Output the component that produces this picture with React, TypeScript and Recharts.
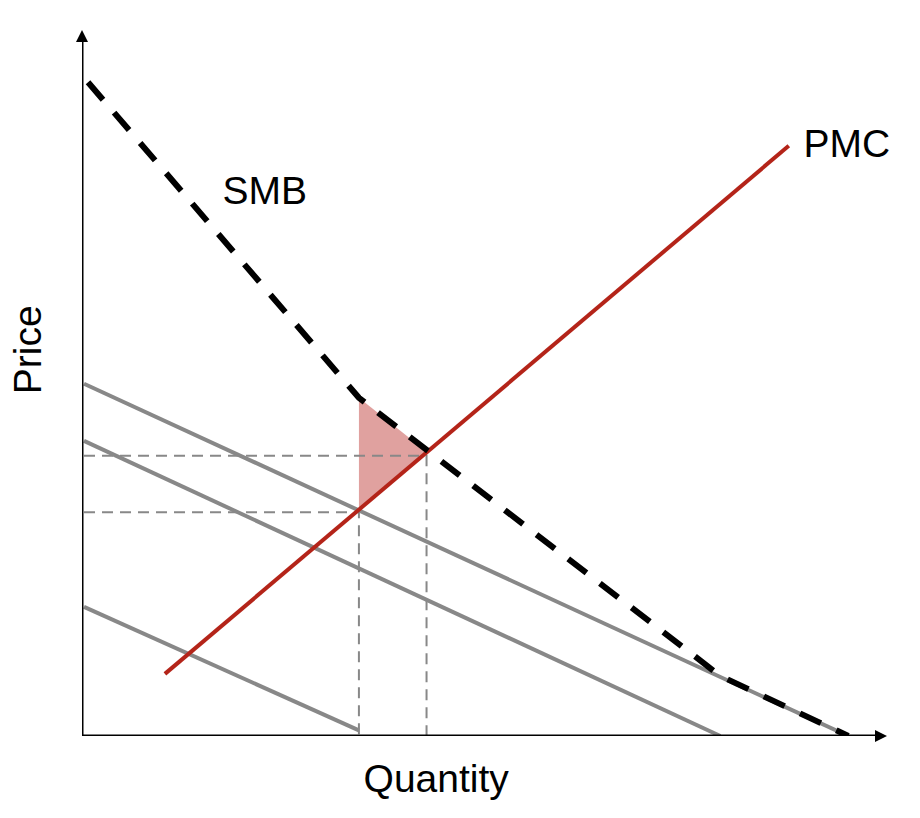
import { ComposedChart, Line, Area, XAxis, YAxis, ReferenceDot } from 'recharts';

// marginal private benefit curves (grey)
const mpbHigh = [
  { x: 0.25, y: 49.9 },
  { x: 95.2, y: 0 },
];
const mpbMid = [
  { x: 0.25, y: 41.8 },
  { x: 79.3, y: 0 },
];
const mpbLow = [
  { x: 0.25, y: 18.3 },
  { x: 34.4, y: 0.8 },
];

// social marginal benefit (vertical sum, dashed)
const smb = [
  { x: 0.75, y: 92.6 },
  { x: 34.4, y: 47.9 },
  { x: 79.3, y: 8.5 },
  { x: 95.2, y: 0 },
];

// private marginal cost
const pmc = [
  { x: 10.3, y: 8.8 },
  { x: 87.8, y: 83.6 },
];

// deadweight loss triangle
const welfareLoss = [
  { x: 34.4, range: [32.2, 47.9] },
  { x: 42.9, range: [40.2, 40.2] },
];

// dashed guides to the axes
const guideOptimum = [
  { x: 0.25, y: 39.7 },
  { x: 42.8, y: 39.7 },
  { x: 42.8, y: 0 },
];
const guideMarket = [
  { x: 0.25, y: 31.7 },
  { x: 34.4, y: 31.7 },
  { x: 34.4, y: 0 },
];

const xAxisLine = [
  { x: 0, y: 0 },
  { x: 99, y: 0 },
];
const yAxisLine = [
  { x: 0, y: 0 },
  { x: 0, y: 99 },
];

const FONT = '"Liberation Sans", Arial, Helvetica, sans-serif';
const GREY = '#888888';
const RED = '#b42419';

const ArrowUp = (props: any) => {
  const { cx, cy } = props;
  return <polygon points={`${cx},${cy} ${cx - 6},${cy + 12} ${cx + 6},${cy + 12}`} fill="#000" />;
};
const ArrowRight = (props: any) => {
  const { cx, cy } = props;
  return <polygon points={`${cx},${cy} ${cx - 12},${cy - 6} ${cx - 12},${cy + 6}`} fill="#000" />;
};

const textLabel = (value: string, size: number, angle = 0) => ({
  value,
  position: 'center' as const,
  fontSize: size,
  fontFamily: FONT,
  fill: '#000',
  angle,
});

export default function App() {
  // svg covers the whole window, so cancel the body margin
  return (
    <div style={{ width: 920, height: 818, margin: '-8px 0 0 -8px' }}>
      <ComposedChart
        width={920}
        height={818}
        data={welfareLoss}
        margin={{ top: 30, right: 33, bottom: 82, left: 82 }}
      >
        <XAxis dataKey="x" type="number" domain={[0, 100]} hide allowDataOverflow />
        <YAxis type="number" domain={[0, 100]} hide allowDataOverflow />

        <Area
          dataKey="range"
          type="linear"
          stroke="none"
          fill="#e0a19f"
          fillOpacity={1}
          isAnimationActive={false}
        />

        <Line data={guideOptimum} dataKey="y" type="linear" stroke={GREY} strokeWidth={2} strokeDasharray="11 7" dot={false} isAnimationActive={false} />
        <Line data={guideMarket} dataKey="y" type="linear" stroke={GREY} strokeWidth={2} strokeDasharray="11 7" dot={false} isAnimationActive={false} />

        <Line data={mpbHigh} dataKey="y" type="linear" stroke={GREY} strokeWidth={4} dot={false} isAnimationActive={false} />
        <Line data={mpbMid} dataKey="y" type="linear" stroke={GREY} strokeWidth={4} dot={false} isAnimationActive={false} />
        <Line data={mpbLow} dataKey="y" type="linear" stroke={GREY} strokeWidth={4} dot={false} isAnimationActive={false} />

        <Line data={pmc} dataKey="y" type="linear" stroke={RED} strokeWidth={4} dot={false} isAnimationActive={false} />

        <Line data={smb} dataKey="y" type="linear" stroke="#000" strokeWidth={6} strokeDasharray="23 17" dot={false} isAnimationActive={false} />

        <Line data={xAxisLine} dataKey="y" type="linear" stroke="#000" strokeWidth={3} strokeLinecap="square" dot={false} isAnimationActive={false} />
        <Line data={yAxisLine} dataKey="y" type="linear" stroke="#000" strokeWidth={3} strokeLinecap="square" dot={false} isAnimationActive={false} />

        <ReferenceDot x={0} y={100} r={4} shape={ArrowUp} ifOverflow="visible" />
        <ReferenceDot x={100} y={0} r={4} shape={ArrowRight} ifOverflow="visible" />

        <ReferenceDot x={22.7} y={77.3} r={0} fill="none" stroke="none" ifOverflow="visible" label={textLabel('SMB', 39)} />
        <ReferenceDot x={95.0} y={84.0} r={0} fill="none" stroke="none" ifOverflow="visible" label={textLabel('PMC', 39)} />
        <ReferenceDot x={-6.8} y={54.7} r={0} fill="none" stroke="none" ifOverflow="visible" label={textLabel('Price', 39, -90)} />
        <ReferenceDot x={44.0} y={-5.95} r={0} fill="none" stroke="none" ifOverflow="visible" label={textLabel('Quantity', 39)} />
      </ComposedChart>
    </div>
  );
}
